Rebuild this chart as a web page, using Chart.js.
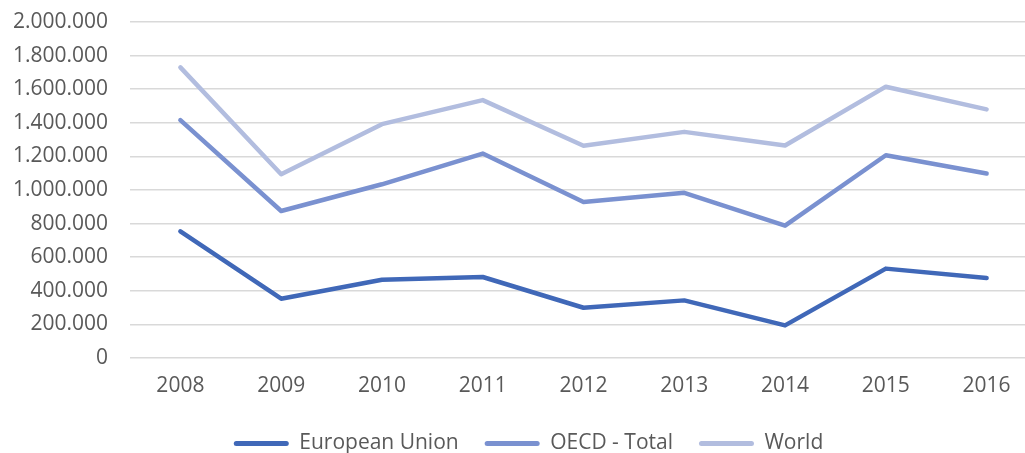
<!DOCTYPE html>
<html>
<head>
<meta charset="utf-8">
<script src="https://cdn.jsdelivr.net/npm/chart.js@4"></script>
<style>
	html, body { margin: 0; padding: 0; background: #fff; overflow: hidden; }
	#wrap { width: 1037px; height: 453px; position: relative; }
</style>
</head>
<body>
<div id="wrap"><canvas id="chart"></canvas></div>
<script>
// chart data
const years = ['2008', '2009', '2010', '2011', '2012', '2013', '2014', '2015', '2016'];
const euValues = [754000, 353000, 466000, 482000, 299000, 343000, 194000, 532000, 476000];
const oecdValues = [1416000, 875000, 1034000, 1217000, 929000, 983000, 788000, 1207000, 1098000];
const worldValues = [1730000, 1094000, 1392000, 1535000, 1263000, 1346000, 1265000, 1615000, 1480000];

const textColor = '#595959';
const fontFamily = '"Open Sans", sans-serif';
const fontSize = 21;

// thousands separator with dots, like the source
let formatTick = (value) => String(value).replace(/\B(?=(\d{3})+(?!\d))/g, '.');

let makeDataset = (label, data, color) => ({
	label,
	data,
	borderColor: color,
	backgroundColor: color,
	borderWidth: 4.5,
	pointRadius: 0,
	tension: 0,
	borderCapStyle: 'round',
	borderJoinStyle: 'round',
});

// keep the legend block a fixed height and nudge it right like the source
let legendPlacement = {
	id: 'legendPlacement',
	afterInit (chart) {
		let legend = chart.legend;
		if (!legend) { return; }
		let fit = legend.fit;
		legend.fit = function () {
			fit.call(this);
			this.height = 46;
		};
	},
	beforeDraw (chart) {
		let legend = chart.legend;
		if (!legend || legend._shifted) { return; }
		legend.left += 10;
		legend.right += 10;
		legend._shifted = true;
	},
};

const chartEl = document.getElementById('chart');

new Chart(chartEl, {
	type: 'line',
	data: {
		labels: years,
		datasets: [
			makeDataset('European Union', euValues, '#4068B8'),
			makeDataset('OECD - Total', oecdValues, '#7A91D0'),
			makeDataset('World', worldValues, '#B2BDDF'),
		],
	},
	options: {
		responsive: true,
		maintainAspectRatio: false,
		animation: false,
		layout: {
			padding: { top: 22, left: 0, right: 0, bottom: 0 },
		},
		plugins: {
			legend: {
				position: 'bottom',
				labels: {
					color: textColor,
					font: { family: fontFamily, size: fontSize },
					boxWidth: 55,
					boxHeight: 5,
					useBorderRadius: true,
					borderRadius: 2.5,
					padding: 26,
					generateLabels: (chart) => {
						let items = Chart.defaults.plugins.legend.labels.generateLabels(chart);
						items.forEach((item) => { item.lineWidth = 0; });
						return items;
					},
				},
			},
			tooltip: { enabled: false },
		},
		scales: {
			x: {
				offset: true,
				grid: { display: false, drawTicks: false },
				border: { display: false },
				ticks: {
					color: textColor,
					font: { family: fontFamily, size: fontSize },
					padding: 15,
					maxRotation: 0,
				},
				afterFit: (scale) => { scale.height = 49; },
			},
			y: {
				min: 0,
				max: 2000000,
				grid: { color: '#D9D9D9', lineWidth: 1.5, drawTicks: false },
				border: { display: false },
				ticks: {
					stepSize: 200000,
					color: textColor,
					font: { family: fontFamily, size: fontSize },
					padding: 22,
					callback: (value) => formatTick(value),
				},
				afterFit: (scale) => {
					scale.width = 130;
					scale.paddingTop = 0;
					scale.paddingBottom = 0;
				},
			},
		},
	},
	plugins: [ legendPlacement ],
});
</script>
</body>
</html>
